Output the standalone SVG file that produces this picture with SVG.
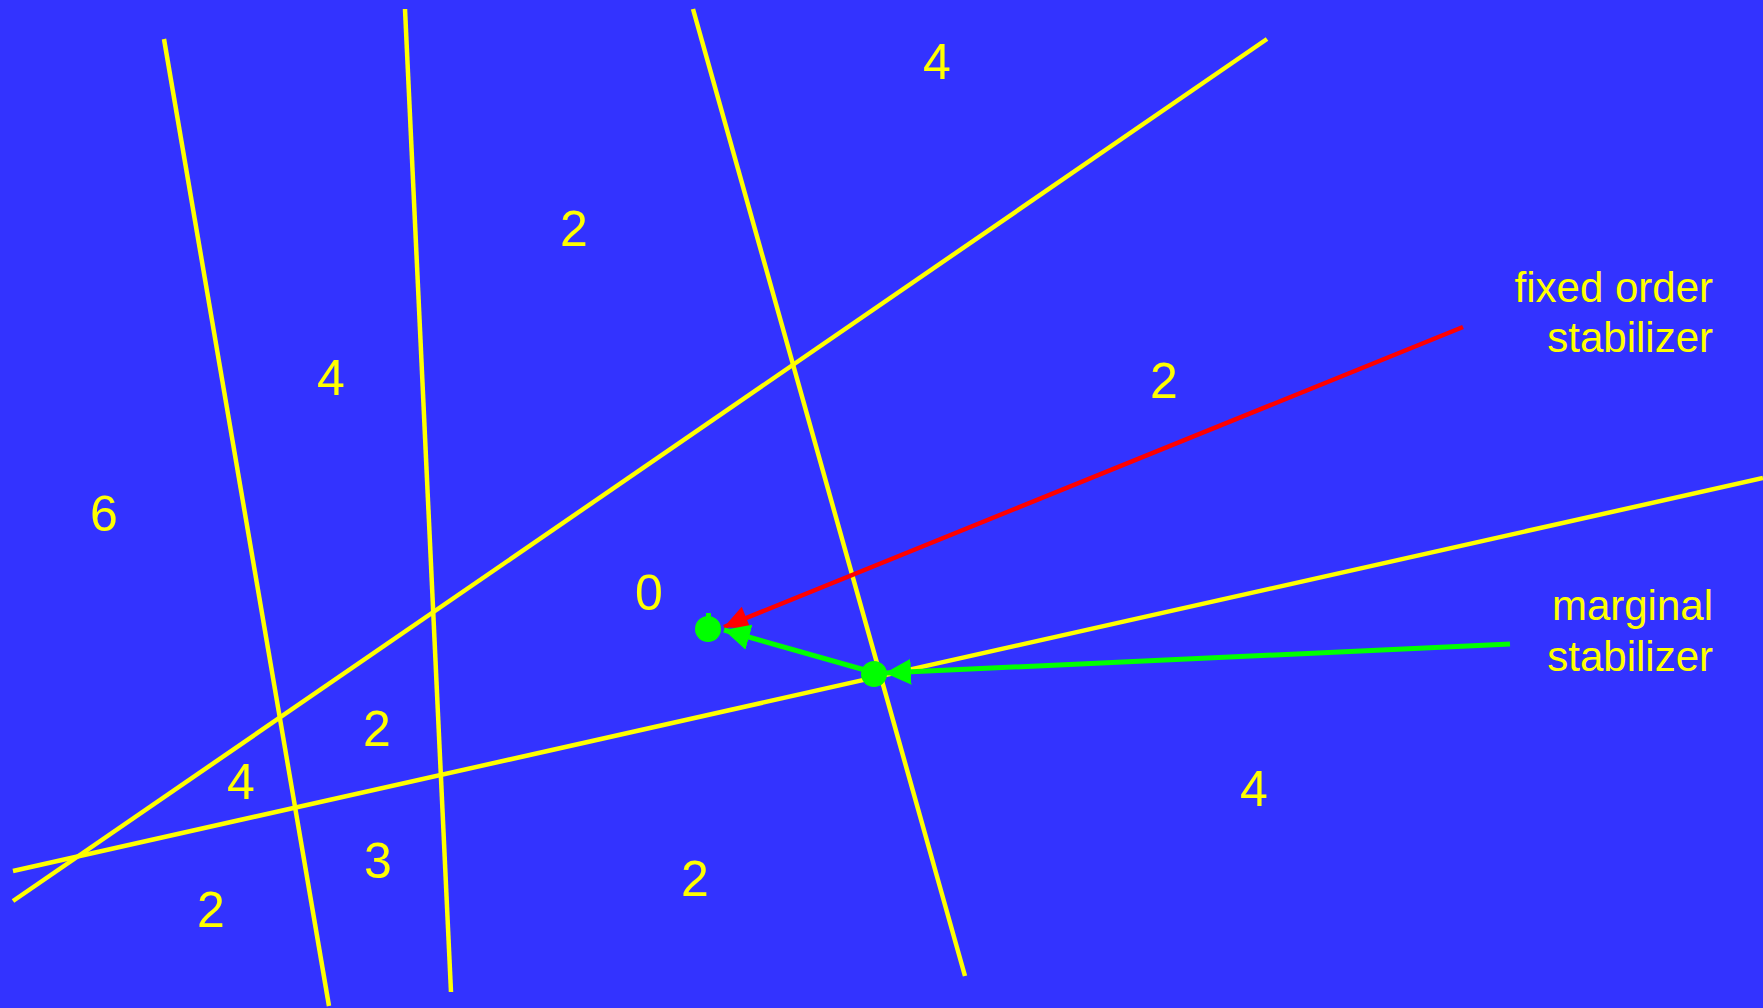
<svg xmlns="http://www.w3.org/2000/svg" width="1763" height="1008" viewBox="0 0 1763 1008">
<defs>
<style>
.ln{stroke:#ffff00;stroke-width:4.5;fill:none}
.num{font-family:"Liberation Sans",Arial,sans-serif;font-size:50px;fill:#ffff00;text-anchor:middle}
.lbl{font-family:"Liberation Sans",Arial,sans-serif;font-size:42px;fill:#ffff00;text-anchor:end}
</style>
<marker id="ahR" viewBox="0 0 10 10" refX="10" refY="5" markerWidth="30" markerHeight="24" markerUnits="userSpaceOnUse" orient="auto"><path d="M0,0 L10,5 L0,10 Z" fill="#ff0000"/></marker>
<marker id="ahG" viewBox="0 0 10 10" refX="10" refY="5" markerWidth="26" markerHeight="26" markerUnits="userSpaceOnUse" orient="auto"><path d="M0,0 L10,5 L0,10 Z" fill="#00ff00"/></marker>
</defs>
<rect width="1763" height="1008" fill="#3333ff"/>
<g id="lines">
<line class="ln" x1="164" y1="39" x2="329" y2="1006"/>
<line class="ln" x1="405" y1="9" x2="451" y2="992"/>
<line class="ln" x1="693" y1="9" x2="965" y2="976"/>
<line class="ln" x1="1267" y1="39" x2="13" y2="901"/>
<line class="ln" x1="1763" y1="478" x2="13" y2="871"/>
</g>
<g id="regions">
<text class="num" x="937" y="79">4</text>
<text class="num" x="574" y="246">2</text>
<text class="num" x="331" y="395">4</text>
<text class="num" x="104" y="531">6</text>
<text class="num" x="1164" y="398">2</text>
<text class="num" x="649" y="610">0</text>
<text class="num" x="377" y="746">2</text>
<text class="num" x="241" y="799">4</text>
<text class="num" x="378" y="878">3</text>
<text class="num" x="211" y="927">2</text>
<text class="num" x="695" y="896">2</text>
<text class="num" x="1254" y="806">4</text>
</g>
<g id="connectors">
<line x1="1463" y1="327" x2="724" y2="627" stroke="#ff0000" stroke-width="4.5" marker-end="url(#ahR)"/>
<line x1="1510" y1="644" x2="885" y2="673" stroke="#00ff00" stroke-width="5" marker-end="url(#ahG)"/>
<line x1="872" y1="672" x2="724" y2="630" stroke="#00ff00" stroke-width="5" marker-end="url(#ahG)"/>
</g>
<g id="points">
<circle cx="708" cy="629" r="13" fill="#00ff00"/>
<rect x="706" y="613" width="5" height="4" fill="#00ff00"/>
<circle cx="874" cy="674" r="13" fill="#00ff00"/>
</g>
<g id="label-fixed">
<text class="lbl" x="1713" y="302">fixed order</text>
<text class="lbl" x="1713" y="352">stabilizer</text>
</g>
<g id="label-marginal">
<text class="lbl" x="1713" y="620">marginal</text>
<text class="lbl" x="1713" y="671">stabilizer</text>
</g>
</svg>
